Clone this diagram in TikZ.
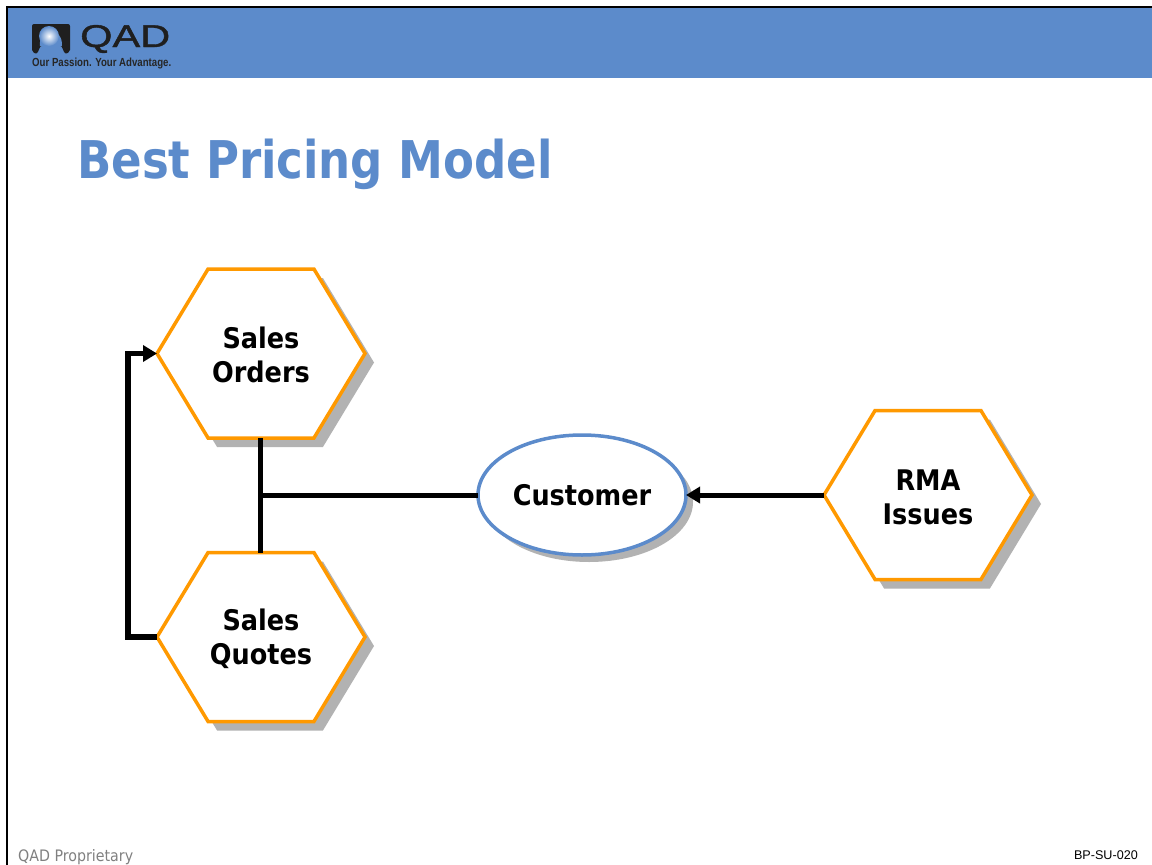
\documentclass[tikz,border=0pt]{standalone}
\usepackage{fontspec}
\setmainfont{DejaVu Sans Condensed}
\newfontfamily\lab{Liberation Sans}
\newfontfamily\logofont[FakeBold=1.2]{Liberation Sans}
\usetikzlibrary{shapes.symbols,shapes.geometric,shadows,arrows.meta}
\definecolor{band}{RGB}{92,139,203}
\definecolor{hexline}{RGB}{255,153,0}
\definecolor{ovalline}{RGB}{92,139,203}
\definecolor{shade}{RGB}{178,178,178}
\definecolor{foot}{RGB}{128,128,128}
\newcommand{\toppad}{\rule{0pt}{24.5pt}}
\tikzset{
  hexnode/.style={signal,signal to=west and east,signal pointer angle=117.7,
    minimum width=208pt,minimum height=169pt,inner sep=0pt,outer sep=0pt,
    draw=hexline,line width=3.5pt,fill=white,align=center,
    font=\fontsize{28.4}{34}\selectfont\bfseries,
    drop shadow={shadow xshift=9pt,shadow yshift=-9pt,opacity=1,fill=shade}},
  ovalnode/.style={ellipse,minimum width=208pt,minimum height=120pt,inner sep=0pt,outer sep=0pt,
    draw=ovalline,line width=3.5pt,fill=white,font=\fontsize{28.4}{34}\selectfont\bfseries,
    drop shadow={shadow xshift=7pt,shadow yshift=-7pt,opacity=1,fill=shade}},
  link/.style={line width=5pt,draw=black},
  arrowlink/.style={link,-{Triangle[length=14pt,width=16pt]}},
}
\begin{document}
\begin{tikzpicture}[x=1pt,y=-1pt]
\useasboundingbox (0,0) rectangle (1152,865);
\fill[white] (0,0) rectangle (1152,865);
% header
\fill[band] (7,7) rectangle (1152,78);
\draw[line width=2.4pt,black] (7,865) -- (7,7) -- (1152,7);
% logo
\fill[black!88,rounded corners=2pt] (32,24) -- (70,24) -- (70,52) -- (65,54) -- (61,45) -- (41,45) -- (37,54) -- (32,52) -- cycle;
\fill[band] (40,46) .. controls (38,26) and (63,26) .. (62,46) -- cycle;
\shade[inner color=white,outer color=band] (49,36) circle[radius=10];
\node[inner sep=0pt,anchor=west,text=black!88] (logoname) at (80,39)
  {\logofont\resizebox{90pt}{22pt}{QAD}};
\node[inner sep=0pt,anchor=west,text=black!85] (logotag) at (32,63.5)
  {\lab\bfseries\resizebox{139pt}{8.5pt}{Our Passion. Your Advantage.}};
% title
\node[inner sep=0pt,anchor=base west,text=band,font=\fontsize{52}{60}\selectfont\bfseries] (title) at (77,178) {\scalebox{.963}[1]{Best Pricing Model}};
% nodes
\node[hexnode] (orders) at (261,353.5) {\toppad Sales\\Orders};
\node[hexnode] (quotes) at (261,637) {\toppad Sales\\Quotes};
\node[hexnode] (rma) at (928,495) {\toppad RMA\\Issues};
\node[ovalnode] (customer) at (582,495) {Customer};
% connectors
\draw[link] (orders.south -| 260.5,0) -- (quotes.north -| 260.5,0);
\coordinate (branch) at (260.5,495);
\draw[link] (branch) -- (customer.west);
\draw[arrowlink] (rma.west) -- (customer.east);
\draw[arrowlink,line width=5.6pt,line join=miter] (quotes.west) -- (128,637) -- (128,353.5) -- (orders.west);
% footer
\node[inner sep=0pt,anchor=base west,text=foot,font=\fontsize{15.8}{18}\selectfont] (prop) at (18,861) {QAD Proprietary};
\node[inner sep=0pt,anchor=base east,text=black,font=\lab\fontsize{12.6}{14}\selectfont] (code) at (1138,859) {BP-SU-020};
\end{tikzpicture}
\end{document}
